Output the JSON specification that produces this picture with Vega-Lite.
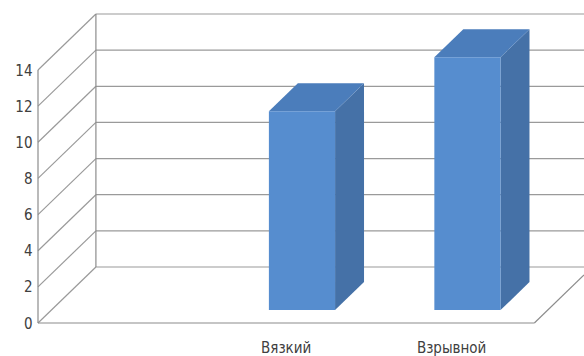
{
  "$schema": "https://vega.github.io/schema/vega-lite/v6.json",
  "width": 546,
  "height": 309,
  "autosize": {"type": "none"},
  "padding": {"left": 38, "top": 14, "right": 0, "bottom": 33},
  "background": "white",
  "config": {"view": {"stroke": null}, "font": "DejaVu Sans Condensed"},
  "datasets": {
    "bars": [
      {"category": "", "value": null},
      {"category": "Вязкий", "value": 11},
      {"category": "Взрывной", "value": 14}
    ],
    "ticks": [{"t": 0}, {"t": 2}, {"t": 4}, {"t": 6}, {"t": 8}, {"t": 10}, {"t": 12}, {"t": 14}]
  },
  "layer": [
    {
      "data": {"name": "ticks"},
      "transform": [{"calculate": "datum.t + 3.1", "as": "yb"}],
      "mark": {"type": "rule", "color": "#9a9a9a", "strokeWidth": 1.2},
      "encoding": {
        "x": {"datum": 0, "type": "quantitative", "scale": {"domain": [0, 3.3], "nice": false, "zero": false}, "axis": null},
        "x2": {"datum": 0.35},
        "y": {"field": "t", "type": "quantitative", "scale": {"domain": [0, 17.1], "nice": false, "zero": false},
          "axis": {"values": [0, 2, 4, 6, 8, 10, 12, 14], "domain": false, "ticks": false, "grid": false, "title": null,
            "labelPadding": 6, "labelFontSize": 15, "labelColor": "#404040", "labelFont": "DejaVu Sans Condensed"}},
        "y2": {"field": "yb"}
      }
    },
    {
      "data": {"name": "ticks"},
      "transform": [{"calculate": "datum.t + 3.1", "as": "yb"}],
      "mark": {"type": "rule", "color": "#9a9a9a", "strokeWidth": 1.2},
      "encoding": {
        "x": {"datum": 0.35, "type": "quantitative", "scale": {"domain": [0, 3.3], "nice": false, "zero": false}, "axis": null},
        "x2": {"datum": 3.3},
        "y": {"field": "yb", "type": "quantitative", "scale": {"domain": [0, 17.1], "nice": false, "zero": false}}
      }
    },
    {
      "data": {"name": "ticks"},
      "mark": {"type": "rule", "color": "#8c8c8c", "strokeWidth": 1.2},
      "encoding": {
        "x": {"datum": 0, "type": "quantitative", "scale": {"domain": [0, 3.3], "nice": false, "zero": false}, "axis": null},
        "y": {"aggregate": "min", "field": "t", "type": "quantitative", "scale": {"domain": [0, 17.1], "nice": false, "zero": false}},
        "y2": {"aggregate": "max", "field": "t"}
      }
    },
    {
      "data": {"name": "ticks"},
      "transform": [{"calculate": "datum.t + 3.1", "as": "yb"}],
      "mark": {"type": "rule", "color": "#8c8c8c", "strokeWidth": 1.2},
      "encoding": {
        "x": {"datum": 0.35, "type": "quantitative", "scale": {"domain": [0, 3.3], "nice": false, "zero": false}, "axis": null},
        "y": {"aggregate": "min", "field": "yb", "type": "quantitative", "scale": {"domain": [0, 17.1], "nice": false, "zero": false}},
        "y2": {"aggregate": "max", "field": "yb"}
      }
    },
    {
      "data": {"name": "ticks"},
      "transform": [{"filter": "datum.t == 0"}],
      "mark": {"type": "rule", "color": "#8c8c8c", "strokeWidth": 1.2},
      "encoding": {
        "x": {"datum": 0, "type": "quantitative", "scale": {"domain": [0, 3.3], "nice": false, "zero": false}, "axis": null},
        "x2": {"datum": 3.0},
        "y": {"field": "t", "type": "quantitative", "scale": {"domain": [0, 17.1], "nice": false, "zero": false}}
      }
    },
    {
      "data": {"name": "ticks"},
      "transform": [{"filter": "datum.t == 0"}],
      "mark": {"type": "rule", "color": "#8c8c8c", "strokeWidth": 1.2},
      "encoding": {
        "x": {"datum": 3.0, "type": "quantitative", "scale": {"domain": [0, 3.3], "nice": false, "zero": false}, "axis": null},
        "x2": {"datum": 3.3},
        "y": {"field": "t", "type": "quantitative", "scale": {"domain": [0, 17.1], "nice": false, "zero": false}},
        "y2": {"datum": 2.657}
      }
    },
    {
      "data": {"name": "bars"},
      "transform": [
        {"window": [{"op": "row_number", "as": "rn"}]},
        {"calculate": "datum.rn - 0.5", "as": "c"},
        {"filter": "datum.value != null"},
        {"calculate": "0.23", "as": "f0"},
        {"calculate": "0.73", "as": "f1"},
        {"fold": ["f0", "f1"], "as": ["k", "f"]},
        {"calculate": "datum.c + datum.f * 0.35 + 0.215", "as": "xs"},
        {"calculate": "datum.f * 3.1", "as": "ylo"},
        {"calculate": "datum.value + datum.f * 3.1", "as": "yhi"}
      ],
      "mark": {"type": "area", "orient": "vertical", "color": "#4571a7", "opacity": 1},
      "encoding": {
        "x": {"field": "xs", "type": "quantitative", "scale": {"domain": [0, 3.3], "nice": false, "zero": false}, "axis": null},
        "y": {"field": "yhi", "type": "quantitative", "scale": {"domain": [0, 17.1], "nice": false, "zero": false}},
        "y2": {"field": "ylo"},
        "detail": {"field": "category", "type": "nominal"}
      }
    },
    {
      "data": {"name": "bars"},
      "transform": [
        {"window": [{"op": "row_number", "as": "rn"}]},
        {"calculate": "datum.rn - 0.5", "as": "c"},
        {"filter": "datum.value != null"},
        {"calculate": "0.23", "as": "f0"},
        {"calculate": "0.73", "as": "f1"},
        {"fold": ["f0", "f1"], "as": ["k", "f"]},
        {"calculate": "datum.c + datum.f * 0.35 - 0.185", "as": "xl"},
        {"calculate": "datum.c + datum.f * 0.35 + 0.215", "as": "xr"},
        {"calculate": "datum.value + datum.f * 3.1", "as": "yt"}
      ],
      "mark": {"type": "area", "orient": "horizontal", "color": "#4b7dbb", "opacity": 1},
      "encoding": {
        "y": {"field": "yt", "type": "quantitative", "scale": {"domain": [0, 17.1], "nice": false, "zero": false}},
        "x": {"field": "xl", "type": "quantitative", "scale": {"domain": [0, 3.3], "nice": false, "zero": false}, "axis": null},
        "x2": {"field": "xr"},
        "detail": {"field": "category", "type": "nominal"}
      }
    },
    {
      "data": {"name": "bars"},
      "transform": [
        {"window": [{"op": "row_number", "as": "rn"}]},
        {"calculate": "datum.rn - 0.5", "as": "c"},
        {"filter": "datum.value != null"},
        {"calculate": "datum.c + 0.23 * 0.35 - 0.185", "as": "xl"},
        {"calculate": "datum.c + 0.23 * 0.35 + 0.215", "as": "xr"},
        {"calculate": "0.23 * 3.1", "as": "yb0"},
        {"calculate": "datum.value + 0.23 * 3.1", "as": "yt"}
      ],
      "mark": {"type": "rect", "color": "#568dcf"},
      "encoding": {
        "x": {"field": "xl", "type": "quantitative", "scale": {"domain": [0, 3.3], "nice": false, "zero": false}, "axis": null},
        "x2": {"field": "xr"},
        "y": {"field": "yt", "type": "quantitative", "scale": {"domain": [0, 17.1], "nice": false, "zero": false}},
        "y2": {"field": "yb0"}
      }
    },
    {
      "data": {"name": "bars"},
      "transform": [
        {"window": [{"op": "row_number", "as": "rn"}]},
        {"calculate": "datum.rn - 0.5", "as": "c"}
      ],
      "mark": {"type": "text", "fontSize": 15, "color": "#404040", "baseline": "middle", "align": "center", "font": "DejaVu Sans Condensed"},
      "encoding": {
        "x": {"field": "c", "type": "quantitative", "scale": {"domain": [0, 3.3], "nice": false, "zero": false}, "axis": null},
        "y": {"datum": -1.38, "type": "quantitative", "scale": {"domain": [0, 17.1], "nice": false, "zero": false}},
        "text": {"field": "category", "type": "nominal"}
      }
    }
  ]
}
